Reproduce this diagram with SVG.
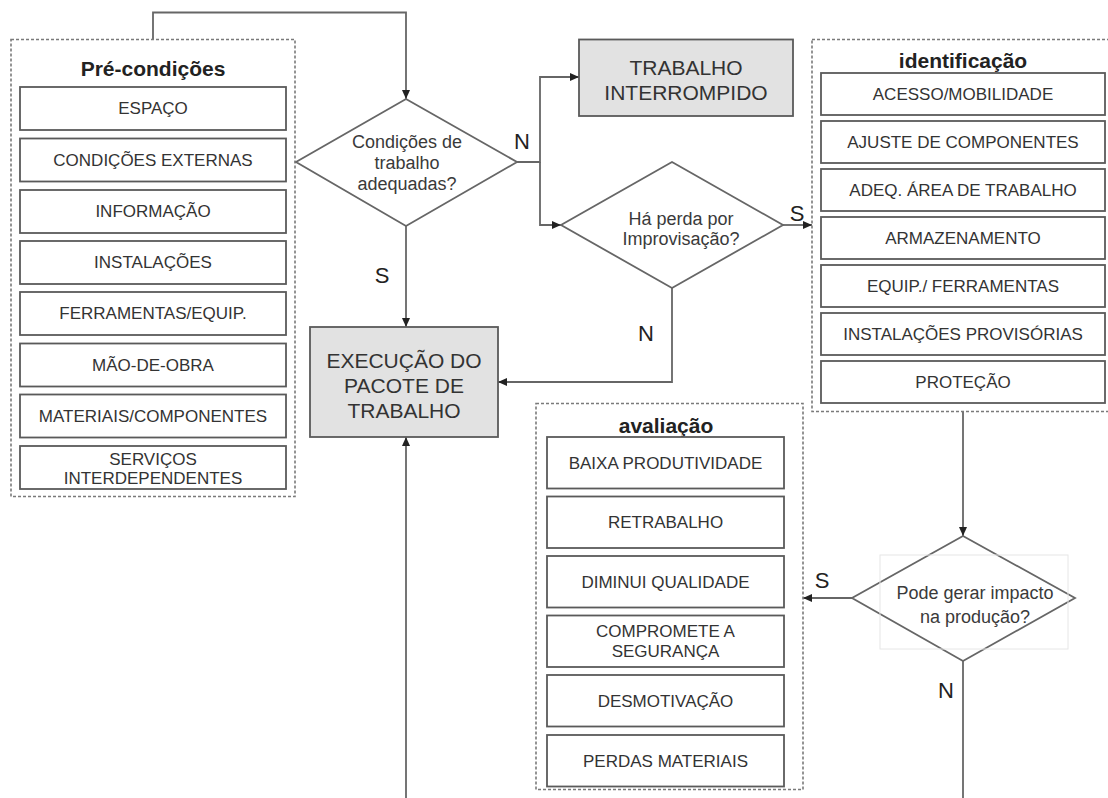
<svg xmlns="http://www.w3.org/2000/svg" width="1108" height="798" viewBox="0 0 1108 798">
<style>
  .cont{fill:none;stroke:#7a7a7a;stroke-width:1.6;stroke-dasharray:3 2}
  .box{fill:#fff;stroke:#5a5a5a;stroke-width:1.8}
  .gbox{fill:#e2e2e2;stroke:#5a5a5a;stroke-width:1.8}
  .dia{fill:#fff;stroke:#666;stroke-width:1.8}
  .t{font-family:"Liberation Sans",Arial,sans-serif;font-size:17px;fill:#333;text-anchor:middle;dominant-baseline:central}
  .dt{font-family:"Liberation Sans",Arial,sans-serif;font-size:18px;fill:#3a3a3a;text-anchor:middle;dominant-baseline:central}
  .big{font-family:"Liberation Sans",Arial,sans-serif;font-size:21px;fill:#333;text-anchor:middle;dominant-baseline:central}
  .title{font-family:"Liberation Sans",Arial,sans-serif;font-size:21px;font-weight:bold;fill:#222;text-anchor:middle;dominant-baseline:central}
  .lbl{font-family:"Liberation Sans",Arial,sans-serif;font-size:22px;fill:#222;text-anchor:middle;dominant-baseline:central}
  .con{fill:none;stroke:#666;stroke-width:1.8}
</style>
<defs>
  <marker id="arr" markerUnits="userSpaceOnUse" markerWidth="9" markerHeight="8" refX="9" refY="4" orient="auto">
    <path d="M0,0 L9,4 L0,8 z" fill="#222"/>
  </marker>
</defs>
<rect width="1108" height="798" fill="#fff"/>

<g id="connectors">
  <path class="con" d="M153,39 V12.5 H406 V99" marker-end="url(#arr)"/>
  <path class="con" d="M406,226 V327" marker-end="url(#arr)"/>
  <path class="con" d="M406,798 V437" marker-end="url(#arr)"/>
  <path class="con" d="M517,162 H540 V77 H579" marker-end="url(#arr)"/>
  <path class="con" d="M540,162 V225 H561" marker-end="url(#arr)"/>
  <path class="con" d="M783,225 H812" marker-end="url(#arr)"/>
  <path class="con" d="M672,288 V382 H498" marker-end="url(#arr)"/>
  <path class="con" d="M963,412 V536" marker-end="url(#arr)"/>
  <path class="con" d="M852,598 H803" marker-end="url(#arr)"/>
  <path class="con" d="M963,661 V798"/>
  <text class="lbl" x="522" y="141">N</text>
  <text class="lbl" x="382" y="275">S</text>
  <text class="lbl" x="797" y="213">S</text>
  <text class="lbl" x="646" y="333">N</text>
  <text class="lbl" x="822" y="580">S</text>
  <text class="lbl" x="946" y="690">N</text>
</g>

<g id="precondicoes">
  <rect class="cont" x="11" y="39.5" width="284" height="457"/>
  <text class="title" x="153" y="68">Pré-condições</text>
  <rect class="box" x="20" y="87" width="266" height="43"/>
  <text class="t" x="153" y="108.5">ESPAÇO</text>
  <rect class="box" x="20" y="138.5" width="266" height="43"/>
  <text class="t" x="153" y="160">CONDIÇÕES EXTERNAS</text>
  <rect class="box" x="20" y="190" width="266" height="43"/>
  <text class="t" x="153" y="211.5">INFORMAÇÃO</text>
  <rect class="box" x="20" y="241" width="266" height="43"/>
  <text class="t" x="153" y="262.5">INSTALAÇÕES</text>
  <rect class="box" x="20" y="292" width="266" height="43"/>
  <text class="t" x="153" y="313.5">FERRAMENTAS/EQUIP.</text>
  <rect class="box" x="20" y="343.5" width="266" height="43"/>
  <text class="t" x="153" y="365">MÃO-DE-OBRA</text>
  <rect class="box" x="20" y="394.5" width="266" height="43"/>
  <text class="t" x="153" y="416">MATERIAIS/COMPONENTES</text>
  <rect class="box" x="20" y="446" width="266" height="43"/>
  <text class="t" x="153" y="459">SERVIÇOS</text>
  <text class="t" x="153" y="478">INTERDEPENDENTES</text>
</g>

<g id="decisao-condicoes">
  <polygon class="dia" points="406,99 517,162 406,226 296,162"/>
  <text class="dt" x="407" y="142">Condições de</text>
  <text class="dt" x="407" y="163">trabalho</text>
  <text class="dt" x="407" y="184">adequadas?</text>
</g>

<g id="trabalho-interrompido">
  <rect class="gbox" x="579" y="39.5" width="214" height="76.5"/>
  <text class="big" x="686" y="67">TRABALHO</text>
  <text class="big" x="686" y="92">INTERROMPIDO</text>
</g>

<g id="decisao-improvisacao">
  <polygon class="dia" points="672,162 783,225 672,288 561,225"/>
  <text class="dt" x="681" y="219">Há perda por</text>
  <text class="dt" x="681" y="239">Improvisação?</text>
</g>

<g id="execucao">
  <rect class="gbox" x="310" y="327" width="188" height="110"/>
  <text class="big" x="404" y="360">EXECUÇÃO DO</text>
  <text class="big" x="404" y="385">PACOTE DE</text>
  <text class="big" x="404" y="410">TRABALHO</text>
</g>

<g id="identificacao">
  <rect class="cont" x="812" y="39.5" width="310" height="372"/>
  <text class="title" x="963" y="60">identificação</text>
  <rect class="box" x="821" y="73" width="284" height="42"/>
  <text class="t" x="963" y="94">ACESSO/MOBILIDADE</text>
  <rect class="box" x="821" y="121" width="284" height="42"/>
  <text class="t" x="963" y="142">AJUSTE DE COMPONENTES</text>
  <rect class="box" x="821" y="169" width="284" height="42"/>
  <text class="t" x="963" y="190">ADEQ. ÁREA DE TRABALHO</text>
  <rect class="box" x="821" y="217" width="284" height="42"/>
  <text class="t" x="963" y="238">ARMAZENAMENTO</text>
  <rect class="box" x="821" y="265" width="284" height="42"/>
  <text class="t" x="963" y="286">EQUIP./ FERRAMENTAS</text>
  <rect class="box" x="821" y="313" width="284" height="42"/>
  <text class="t" x="963" y="334">INSTALAÇÕES PROVISÓRIAS</text>
  <rect class="box" x="821" y="361" width="284" height="42"/>
  <text class="t" x="963" y="382">PROTEÇÃO</text>
</g>

<g id="decisao-impacto">
  <polygon class="dia" points="963,536 1075,598 963,661 852,598"/>
  <rect x="880" y="555" width="188" height="94" fill="none" stroke="#e6e6e6" stroke-width="1"/>
  <text class="dt" x="975" y="593">Pode gerar impacto</text>
  <text class="dt" x="975" y="617">na produção?</text>
</g>

<g id="avaliacao">
  <rect class="cont" x="536" y="403.5" width="267" height="386"/>
  <text class="title" x="666" y="425">avaliação</text>
  <rect class="box" x="547" y="437" width="237" height="51.5"/>
  <text class="t" x="665.5" y="463">BAIXA PRODUTIVIDADE</text>
  <rect class="box" x="547" y="496.5" width="237" height="51.5"/>
  <text class="t" x="665.5" y="522.5">RETRABALHO</text>
  <rect class="box" x="547" y="556" width="237" height="51.5"/>
  <text class="t" x="665.5" y="582">DIMINUI QUALIDADE</text>
  <rect class="box" x="547" y="615.5" width="237" height="51.5"/>
  <text class="t" x="665.5" y="631">COMPROMETE A</text>
  <text class="t" x="665.5" y="651">SEGURANÇA</text>
  <rect class="box" x="547" y="675" width="237" height="51.5"/>
  <text class="t" x="665.5" y="701">DESMOTIVAÇÃO</text>
  <rect class="box" x="547" y="735" width="237" height="51.5"/>
  <text class="t" x="665.5" y="761">PERDAS MATERIAIS</text>
</g>
</svg>
